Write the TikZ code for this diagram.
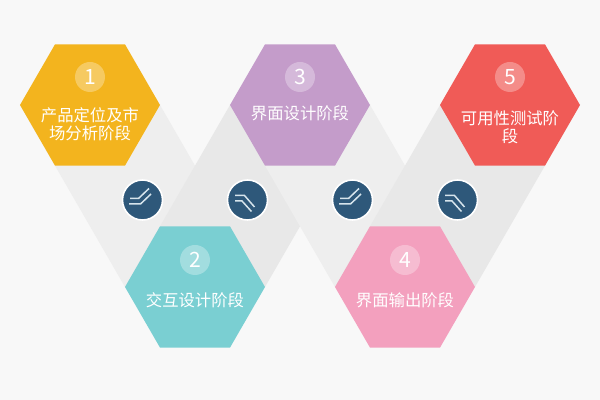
\documentclass[tikz,border=0pt]{standalone}
\usepackage{fontspec}
\newfontfamily\cjk{Noto Sans CJK SC}
\usetikzlibrary{shapes.geometric,positioning,backgrounds}

\definecolor{pagegray}{HTML}{F8F8F8}
\definecolor{bandlight}{HTML}{EEEEEE}
\definecolor{banddark}{HTML}{E8E8E8}
\definecolor{stageyellow}{HTML}{F3B41E}
\definecolor{stageteal}{HTML}{7ACFD2}
\definecolor{stagepurple}{HTML}{C49CCA}
\definecolor{stagepink}{HTML}{F3A0BE}
\definecolor{stagered}{HTML}{F05B57}
\definecolor{knobblue}{HTML}{2E587A}
\definecolor{iconline}{HTML}{D6E4EC}

\begin{document}
\begin{tikzpicture}
        \tikzstyle{hexa}=[regular polygon, regular polygon sides=6,
            minimum size=2.8cm, inner sep=0pt, outer sep=0pt]
        \tikzstyle{numdot}=[circle, fill=white, fill opacity=0.3,
            text opacity=1, text=white, minimum size=0.6cm, inner sep=0pt,
            font=\cjk\fontsize{12}{12}\selectfont]
        \tikzstyle{stagetext}=[text=white, align=center, inner sep=0pt,
            font=\cjk\fontsize{9.3}{10.4}\selectfont]
        \tikzstyle{knob}=[circle, fill=knobblue, draw=white, line width=0.9pt,
            minimum size=0.8cm, inner sep=0pt]
        \tikzstyle{kneeline}=[draw=iconline, line width=0.85pt]
        \useasboundingbox (0,0) rectangle (12,8);

        \node[hexa, fill=stageyellow] (h1) at (1.8, 5.9) {};
        \node[hexa, fill=stageteal] (h2) at (3.9, 2.26) {};
        \node[hexa, fill=stagepurple] (h3) at (6.0, 5.9) {};
        \node[hexa, fill=stagepink] (h4) at (8.1, 2.26) {};
        \node[hexa, fill=stagered] (h5) at (10.2, 5.9) {};

        \node[numdot] (n1) at (1.8, 6.46) {1};
        \node[numdot] (n2) at (3.9, 2.8) {2};
        \node[numdot] (n3) at (6.0, 6.46) {3};
        \node[numdot] (n4) at (8.1, 2.8) {4};
        \node[numdot] (n5) at (10.2, 6.46) {5};

        \node[stagetext] (t1) at (1.8, 5.52) {产品定位及市\\场分析阶段};
        \node[stagetext] (t2) at (3.9, 2.0) {交互设计阶段};
        \node[stagetext] (t3) at (6.0, 5.74) {界面设计阶段};
        \node[stagetext] (t4) at (8.1, 2.0) {界面输出阶段};
        \node[stagetext] (t5) at (10.2, 5.45) {可用性测试阶\\段};

        \node[knob] (k1) at (2.85, 4.0) {};
        \node[knob] (k2) at (4.95, 4.0) {};
        \node[knob] (k3) at (7.05, 4.0) {};
        \node[knob] (k4) at (9.15, 4.0) {};

        \foreach \k in {k1, k3} {
            \draw[kneeline] ([shift={(-0.25,0.03)}]\k.center) -- ++(0.17,0) -- ++(0.21,0.2);
            \draw[kneeline] ([shift={(-0.27,-0.08)}]\k.center) -- ++(0.23,0) -- ++(0.21,0.2);
        }
        \foreach \k in {k2, k4} {
            \draw[kneeline] ([shift={(-0.25,0.09)}]\k.center) -- ++(0.19,0) -- ++(0.2,-0.23);
            \draw[kneeline] ([shift={(-0.25,-0.02)}]\k.center) -- ++(0.14,0) -- ++(0.19,-0.21);
        }

        \begin{pgfonlayer}{background}
            \fill[pagegray] (0,0) rectangle (12,8);
            \fill[bandlight] (h1.west) -- (h1.east) -- (h2.east) -- (h2.west) -- cycle;
            \fill[banddark] (h2.west) -- (h2.east) -- (h3.east) -- (h3.west) -- cycle;
            \fill[bandlight] (h3.west) -- (h3.east) -- (h4.east) -- (h4.west) -- cycle;
            \fill[banddark] (h4.west) -- (h4.east) -- (h5.east) -- (h5.west) -- cycle;
        \end{pgfonlayer}

    \end{tikzpicture}
\end{document}
